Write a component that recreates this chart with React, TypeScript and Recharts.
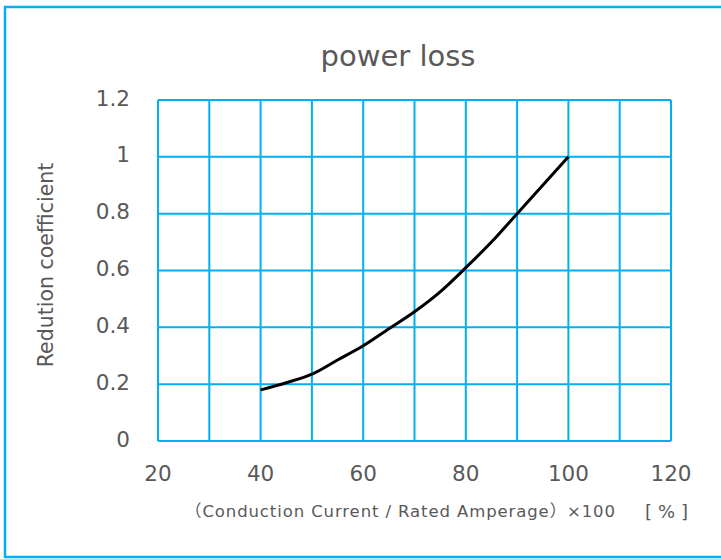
import React from "react";
import { LineChart, Line, XAxis, YAxis, CartesianGrid, Label } from "recharts";

const currentPct = [40, 45, 50, 55, 60, 65, 70, 75, 80, 85, 90, 95, 100];
const reduction = [0.18, 0.205, 0.235, 0.285, 0.335, 0.395, 0.455, 0.525, 0.61, 0.7, 0.8, 0.9, 1.0];
const xGridTicks = [20, 30, 40, 50, 60, 70, 80, 90, 100, 110, 120];
const xTickLabels = [20, 40, 60, 80, 100, 120];
const yTicks = [0, 0.2, 0.4, 0.6, 0.8, 1, 1.2];

const data = currentPct.map((x, i) => ({ x, y: reduction[i] }));

const FONT = "'DejaVu Sans', 'Noto Sans CJK JP', sans-serif";
const GRID = "#00b0f0";
const TEXT = "#595959";

const XTick = (props: any) => {
  const { x, payload } = props;
  if (!xTickLabels.includes(payload.value)) return null;
  return (
    <text x={x} y={473} textAnchor="middle" dominantBaseline="central" fill={TEXT} fontSize={21.5} fontFamily={FONT}>
      {payload.value}
    </text>
  );
};

const YTick = (props: any) => {
  const { y, payload } = props;
  return (
    <text x={130} y={y - 2} textAnchor="end" dominantBaseline="central" fill={TEXT} fontSize={21.5} fontFamily={FONT}>
      {String(payload.value)}
    </text>
  );
};

const XLabel = () => (
  <g>
    <text x={185} y={511} textAnchor="start" dominantBaseline="central" fill={TEXT} fontSize={16.5} fontFamily={FONT} textLength={430} lengthAdjust="spacing">
      （Conduction Current / Rated Amperage）×100
    </text>
    <text x={645} y={511} textAnchor="start" dominantBaseline="central" fill={TEXT} fontSize={18} fontFamily={FONT} textLength={43} lengthAdjust="spacing">
      [%]
    </text>
  </g>
);

const YLabel = () => (
  <g>
    <text x={46} y={265} textAnchor="middle" dominantBaseline="central" fill={TEXT} fontSize={20.5} fontFamily={FONT} transform="rotate(-90 46 265)">
      Redution coefficient
    </text>
    <line x1={5} y1={7} x2={5} y2={558} stroke={GRID} strokeWidth={2.5} />
    <line x1={4} y1={557} x2={721} y2={557} stroke={GRID} strokeWidth={2.5} />
    <line x1={4} y1={7} x2={721} y2={7} stroke={GRID} strokeWidth={2.5} />
  </g>
);

export default function App() {
  return (
    <div style={{ position: "absolute", left: 0, top: 0, width: 721, height: 559, background: "#fff" }}>
      <LineChart width={721} height={559} data={data} margin={{ top: 100, right: 50, bottom: 88, left: 98 }}>
        <text x={398} y={66} textAnchor="middle" fill={TEXT} fontSize={29} fontFamily={FONT}>
          power loss
        </text>
        <CartesianGrid stroke={GRID} strokeWidth={2} />
        <XAxis
          dataKey="x"
          type="number"
          domain={[20, 120]}
          ticks={xGridTicks}
          interval={0}
          tick={<XTick />}
          tickLine={false}
          axisLine={{ stroke: GRID, strokeWidth: 2 }}
          height={30}
        >
          <Label content={<XLabel />} />
        </XAxis>
        <YAxis
          type="number"
          domain={[0, 1.2]}
          ticks={yTicks}
          interval={0}
          tick={<YTick />}
          tickLine={false}
          axisLine={{ stroke: GRID, strokeWidth: 2 }}
          width={60}
        >
          <Label content={<YLabel />} />
        </YAxis>
        <Line dataKey="y" type="monotone" stroke="#000" strokeWidth={3} dot={false} isAnimationActive={false} />
      </LineChart>
    </div>
  );
}
